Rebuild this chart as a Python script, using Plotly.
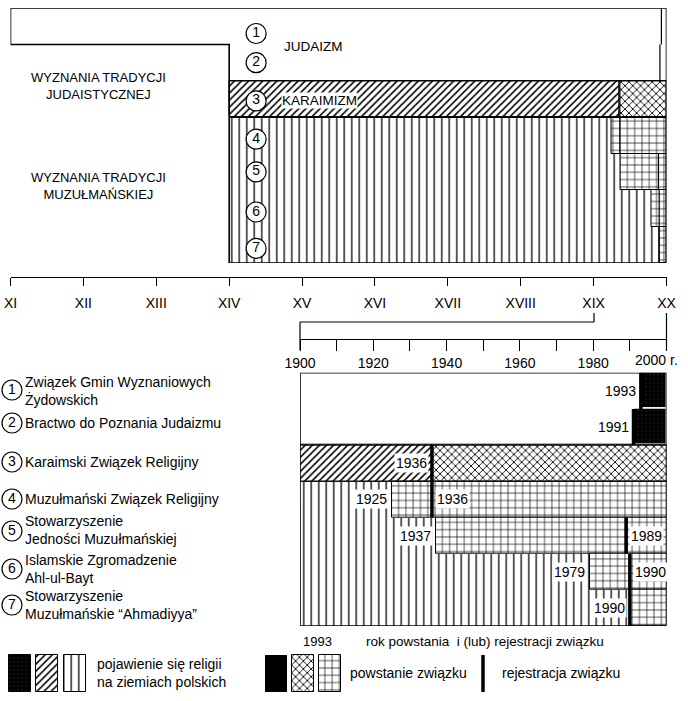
import plotly.graph_objects as go

W, H = 688, 701
FONT = "Liberation Sans, Arial, sans-serif"

# ---------------- data ----------------
row_ids = [1, 2, 3, 4, 5, 6, 7]
row_marks = ["1", "2", "3", "4", "5", "6", "7"]
union_names = [
    "Związek Gmin Wyznaniowych<br>Żydowskich",
    "Bractwo do Poznania Judaizmu",
    "Karaimski Związek Religijny",
    "Muzułmański Związek Religijny",
    "Stowarzyszenie<br>Jedności Muzułmańskiej",
    "Islamskie Zgromadzenie<br>Ahl-ul-Bayt",
    "Stowarzyszenie<br>Muzułmańskie “Ahmadiyya”",
]
appearance_year = [1100, 1400, 1400, 1400, 1400, 1400, 1400]
appearance_fill = ["none", "none", "/", "|", "|", "|", "|"]
founding_year = [1993, 1991, 1936, 1925, 1937, 1979, 1990]
founding_fill = ["solid", "solid", "x", "+", "+", "+", "+"]
registration_year = [1993, 1991, 1936, 1936, 1989, 1990, 1990]
end_year = 2000
detail_start = 1900

century_ticks = [1100, 1200, 1300, 1400, 1500, 1600, 1700, 1800, 1900, 2000]
century_labels = ["XI", "XII", "XIII", "XIV", "XV", "XVI", "XVII", "XVIII", "XIX", "XX"]
decade_ticks = [1900, 1910, 1920, 1930, 1940, 1950, 1960, 1970, 1980, 1990, 2000]
decade_labels = ["1900", "", "1920", "", "1940", "", "1960", "", "1980", "", ""]

label_rows = [1, 2, 3, 4, 4, 5, 5, 6, 6, 7]
label_years = [1993, 1991, 1936, 1925, 1936, 1937, 1989, 1979, 1990, 1990]
label_sides = ["L", "L", "L", "L", "R", "L", "R", "L", "R", "L"]

# ---------------- helpers ----------------
def px(p):
    return p / W

def py(p):
    return 1 - p / H

PATTERNS = {
    "/": dict(shape="/", size=5, solidity=0.32),
    "x": dict(shape="x", size=5.5, solidity=0.3),
    "|": dict(shape="|", size=7.5, solidity=0.17),
    "+": dict(shape="+", size=7.3, solidity=0.17),
}

def marker_for(kind):
    if kind == "solid":
        return dict(color="black",
                    pattern=dict(shape=".", fgcolor="#555", bgcolor="black",
                                 size=4, solidity=0.06),
                    line=dict(color="white", width=1.5))
    p = PATTERNS[kind]
    outline = 0 if kind == "|" else 1
    return dict(color="white",
                pattern=dict(shape=p["shape"], fgcolor="black", bgcolor="white",
                             size=p["size"], solidity=p["solidity"]),
                line=dict(color="black", width=outline))

fig = go.Figure()

def add_bar(base, length, row, kind, xa, ya):
    fig.add_trace(go.Bar(
        orientation="h", base=[base], x=[length], y=[row], width=[1],
        marker=marker_for(kind), xaxis=xa, yaxis=ya,
        showlegend=False, hoverinfo="skip"))

# ---------------- top (centuries) chart ----------------
for i, r in enumerate(row_ids):
    if appearance_fill[i] != "none":
        add_bar(appearance_year[i], founding_year[i] - appearance_year[i], r,
                appearance_fill[i], "x", "y")
    if founding_fill[i] != "solid":
        add_bar(founding_year[i], end_year - founding_year[i], r,
                founding_fill[i], "x", "y")

circle_year = 1437
circle_offsets = [0.2, 0.0, 0.05, 0.1, 0.0, 0.1, 0.1]
fig.add_trace(go.Scatter(
    x=[circle_year] * len(row_ids),
    y=[r + o for r, o in zip(row_ids, circle_offsets)], text=row_marks,
    mode="markers+text", textposition="middle center",
    textfont=dict(family=FONT, size=14, color="black"),
    marker=dict(symbol="circle", size=20, color="white",
                line=dict(color="black", width=1.2)),
    xaxis="x", yaxis="y", showlegend=False, hoverinfo="skip", cliponaxis=False))

# ---------------- bottom (20th century) chart ----------------
for i, r in enumerate(row_ids):
    start = max(appearance_year[i], detail_start)
    if appearance_fill[i] != "none":
        add_bar(start, founding_year[i] - start, r, appearance_fill[i], "x2", "y2")
    add_bar(founding_year[i], end_year - founding_year[i], r,
            founding_fill[i], "x2", "y2")

# ---------------- legend swatches (pixel axis) ----------------
legend_swatches = [(19.5, "solid"), (47, "/"), (74.5, "|"),
                   (275.5, "solid_plain"), (303, "x"), (329.5, "+")]
for cx, kind in legend_swatches:
    if kind == "solid_plain":
        mk = dict(color="black", line=dict(color="black", width=0))
    else:
        mk = marker_for(kind)
        mk["line"] = dict(color="black", width=1)
    fig.add_trace(go.Bar(x=[cx], y=[37], base=[655], width=[22], marker=mk,
                         xaxis="x3", yaxis="y3", showlegend=False,
                         hoverinfo="skip"))

# circled numbers of bottom list
list_y = [390, 423, 462, 499, 531, 569, 605]
fig.add_trace(go.Scatter(
    x=[12] * 7, y=list_y, text=row_marks, mode="markers+text",
    textposition="middle center",
    textfont=dict(family=FONT, size=14, color="black"),
    marker=dict(symbol="circle", size=20, color="white",
                line=dict(color="black", width=1.2)),
    xaxis="x3", yaxis="y3", showlegend=False, hoverinfo="skip", cliponaxis=False))

# ---------------- shapes ----------------
shapes = []
top_path = (f"M {appearance_year[0]},0.5 L {end_year},0.5 L {end_year},7.5 "
            f"L {appearance_year[1]},7.5 L {appearance_year[1]},1.5 "
            f"L {appearance_year[0]},1.5 Z")
shapes.append(dict(type="path", path=top_path, xref="x", yref="y",
                   line=dict(color="black", width=1.6)))
for yy in (2.5, 3.5):
    shapes.append(dict(type="line", xref="x", yref="y", x0=appearance_year[2],
                       x1=end_year, y0=yy, y1=yy,
                       line=dict(color="black", width=1.2)))
    shapes.append(dict(type="line", xref="x2", yref="y2", x0=detail_start,
                       x1=end_year, y0=yy, y1=yy,
                       line=dict(color="black", width=1.2)))
shapes.append(dict(type="rect", xref="x2", yref="y2", x0=detail_start,
                   x1=end_year, y0=0.5, y1=7.5,
                   line=dict(color="black", width=1.6)))
for i, r in enumerate(row_ids):
    shapes.append(dict(type="line", xref="x2", yref="y2",
                       x0=registration_year[i], x1=registration_year[i],
                       y0=r - 0.5, y1=r + 0.5,
                       line=dict(color="black", width=3.5)))
    shapes.append(dict(type="line", xref="x", yref="y",
                       x0=registration_year[i], x1=registration_year[i],
                       y0=r - 0.5, y1=r + 0.5,
                       line=dict(color="black", width=1.2)))

# bracket linking XIX-XX to the 1900-2000 axis
x19, x20, x1900 = 594, 666.5, 300
shapes += [
    dict(type="line", xref="paper", yref="paper", x0=px(x19), x1=px(x19),
         y0=py(313), y1=py(322), line=dict(color="black", width=1.2)),
    dict(type="line", xref="paper", yref="paper", x0=px(x1900), x1=px(x19),
         y0=py(322), y1=py(322), line=dict(color="black", width=1.2)),
    dict(type="line", xref="paper", yref="paper", x0=px(x1900), x1=px(x1900),
         y0=py(322), y1=py(350), line=dict(color="black", width=1.2)),
    dict(type="line", xref="paper", yref="paper", x0=px(x20), x1=px(x20),
         y0=py(313), y1=py(350), line=dict(color="black", width=1.2)),
    dict(type="line", xref="paper", yref="paper", x0=px(483), x1=px(483),
         y0=py(655), y1=py(692), line=dict(color="black", width=3.5)),
]

# ---------------- annotations ----------------
ann = []

def text(x, y, s, size=14, xanchor="left", align="left"):
    ann.append(dict(x=px(x), y=py(y), xref="paper", yref="paper", text=s,
                    showarrow=False, xanchor=xanchor, yanchor="middle",
                    align=align, font=dict(family=FONT, size=size, color="black")))

text(98, 86, "WYZNANIA TRADYCJI<br>JUDAISTYCZNEJ", 13, "center", "center")
text(98, 186, "WYZNANIA TRADYCJI<br>MUZUŁMAŃSKIEJ", 13, "center", "center")
ann.append(dict(x=1473, y=1.55, xref="x", yref="y", text="JUDAIZM", showarrow=False,
                xanchor="left", yanchor="middle",
                font=dict(family=FONT, size=13.5, color="black")))
ann.append(dict(x=1471, y=3.05, xref="x", yref="y", text="KARAIMIZM", showarrow=False,
                xanchor="left", yanchor="middle", bgcolor="white", borderpad=0,
                font=dict(family=FONT, size=13.5, color="black")))

for name, yy in zip(union_names, [391, 423, 462, 499, 530, 569, 605]):
    text(23, yy, name, 14)

for r, yr, side in zip(label_rows, label_years, label_sides):
    ann.append(dict(x=yr, y=r, xref="x2", yref="y2", text=str(yr), showarrow=False,
                    xanchor="right" if side == "L" else "left",
                    xshift=-3 if side == "L" else 3, yanchor="middle",
                    bgcolor="white", borderpad=1,
                    font=dict(family=FONT, size=14, color="black")))

text(656, 360, "2000 r.", 14, "center", "center")
text(317, 641, "1993", 13, "center", "center")
text(364, 641, "rok powstania  i (lub) rejestracji związku", 13.5)
text(95, 673, "pojawienie się religii<br>na ziemiach polskich", 14)
text(348, 673, "powstanie związku", 14)
text(500, 673, "rejestracja związku", 14)

# ---------------- layout ----------------
fig.update_layout(
    template="none",
    width=W, height=H, margin=dict(l=0, r=0, t=0, b=0, pad=0, autoexpand=False),
    paper_bgcolor="white", plot_bgcolor="rgba(0,0,0,0)",
    barmode="overlay", bargap=0, showlegend=False,
    font=dict(family=FONT, color="black"),
    shapes=shapes, annotations=ann,
    xaxis=dict(domain=[px(10.5), px(666.5)], range=[century_ticks[0], century_ticks[-1]],
               anchor="free", position=py(277), showline=True, linecolor="black",
               linewidth=1, ticks="outside", ticklen=8, tickwidth=1,
               tickcolor="black", tickvals=century_ticks, ticktext=century_labels,
               tickfont=dict(family=FONT, size=14), ticklabelstandoff=5,
               showgrid=False, zeroline=False, fixedrange=True, automargin=False),
    yaxis=dict(domain=[py(263), py(8)], range=[7.5, 0.5], visible=False,
               anchor="x", fixedrange=True, automargin=False),
    xaxis2=dict(domain=[px(x1900), px(666.5)], range=[decade_ticks[0], decade_ticks[-1]],
                anchor="free", position=py(339), showline=True, linecolor="black",
                linewidth=1, ticks="outside", ticklen=11, tickwidth=1,
                tickcolor="black", tickvals=decade_ticks, ticktext=decade_labels,
                tickfont=dict(family=FONT, size=14), showgrid=False,
                zeroline=False, fixedrange=True, automargin=False),
    yaxis2=dict(domain=[py(626), py(372.7)], range=[7.5, 0.5], visible=False,
                anchor="x2", fixedrange=True, automargin=False),
    xaxis3=dict(domain=[0, 1], range=[0, W], visible=False, anchor="y3",
                fixedrange=True, automargin=False),
    yaxis3=dict(domain=[0, 1], range=[H, 0], visible=False, anchor="x3",
                fixedrange=True, automargin=False),
)

fig.write_html("out.html", config={"displayModeBar": False},
               post_script="document.body.style.margin='0';"
                           "document.body.style.overflow='hidden';")
